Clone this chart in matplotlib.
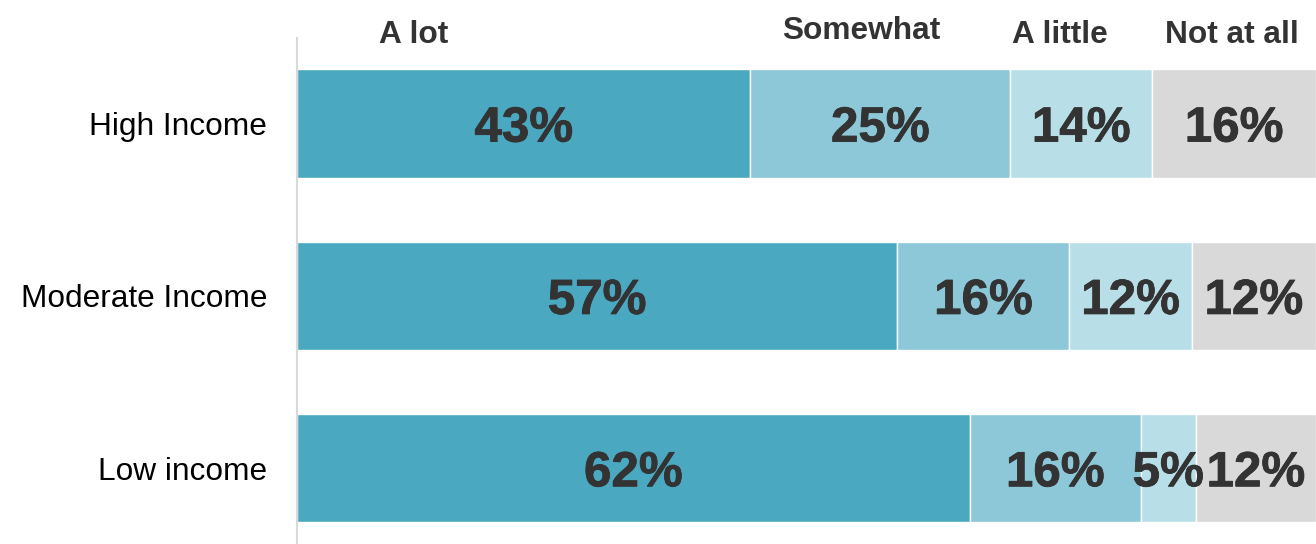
import numpy as np
import matplotlib.pyplot as plt
import matplotlib.patheffects as pe

plt.rcParams['font.family'] = ['Liberation Sans', 'DejaVu Sans']

# data
groups = ["High Income", "Moderate Income", "Low income"]
answers = ["A lot", "Somewhat", "A little", "Not at all"]
# labelled percentages
a_lot = [43, 57, 62]
somewhat = [25, 16, 16]
a_little = [14, 12, 5]
not_at_all = [16, 12, 12]
# bar lengths as share of the full bar
a_lot_len = [44.5, 58.9, 66.0]
somewhat_len = [25.5, 16.9, 16.8]
a_little_len = [13.9, 12.0, 5.4]
not_at_all_len = [16.1, 12.2, 11.8]

colors = ["#4aa8c1", "#8dc8d8", "#b8dfe8", "#d9d9d9"]

W, H = 1316, 544
fig = plt.figure(figsize=(W / 100, H / 100), dpi=100)
ax = fig.add_axes([297 / W, 0, 1 - 297 / W, 1 - 38 / H])

vals = np.array([a_lot, somewhat, a_little, not_at_all], dtype=float)
lens = np.array([a_lot_len, somewhat_len, a_little_len, not_at_all_len])
lens = lens / lens.sum(axis=0) * 100
y = np.arange(len(groups))

# slightly heavier look for the big labels
heavy = [pe.withStroke(linewidth=0.6, foreground="#333333")]

left = np.zeros(len(groups))
for i, name in enumerate(answers):
    ax.barh(y, lens[i], left=left, height=0.63, color=colors[i],
            edgecolor="white", linewidth=1)
    for j in range(len(groups)):
        ax.text(left[j] + lens[i][j] / 2, y[j] + 0.105, f"{vals[i][j]:.0f}%",
                ha="center", va="baseline", fontsize=35.5, fontweight="bold",
                color="#333333", path_effects=heavy)
    left += lens[i]

ax.set_xlim(0, 100)
ax.set_ylim(2.44, -0.496)
ax.set_yticks(y)
ax.set_yticklabels(groups, fontsize=22.8, color="black")
ax.tick_params(axis="y", length=0, pad=21.5)
ax.set_xticks([])
for s in ["top", "right", "bottom"]:
    ax.spines[s].set_visible(False)
ax.spines["left"].set_color("#d9d9d9")
ax.spines["left"].set_linewidth(1.5)

# column headers
header_x = [414, 861, 1060, 1232]
header_y = [43, 39, 43, 43]
for name, hx, hy in zip(answers, header_x, header_y):
    fig.text(hx / W, 1 - hy / H, name, ha="center", va="baseline",
             fontsize=22.8, fontweight="bold", color="#333333")

fig.savefig("out.png", dpi=100)
